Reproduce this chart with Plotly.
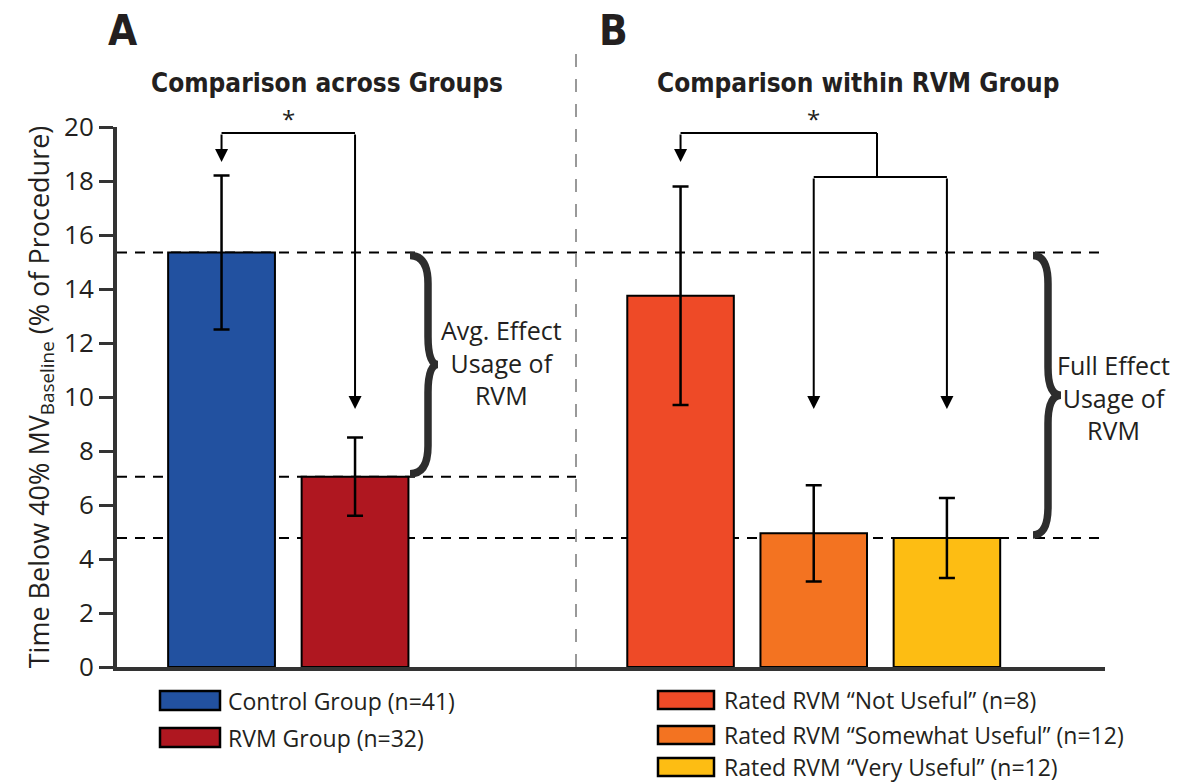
import plotly.graph_objects as go

# ---------------- data ----------------
groups_a = ["Control Group (n=41)", "RVM Group (n=32)"]
means_a = [15.35, 7.05]
err_a = [2.85, 1.45]
colors_a = ["#2251a0", "#af1720"]

groups_b = ["Rated RVM “Not Useful” (n=8)",
            "Rated RVM “Somewhat Useful” (n=12)",
            "Rated RVM “Very Useful” (n=12)"]
means_b = [13.75, 4.95, 4.78]
err_b = [4.05, 1.78, 1.48]
colors_b = ["#ee4a27", "#f37321", "#fdbd13"]

y_ticks = [0, 2, 4, 6, 8, 10, 12, 14, 16, 18, 20]

# ---------------- layout geometry (pixels) ----------------
FW, FH = 1194, 784
L, R, T, B = 117, 1105, 127, 667
W, H = R - L, B - T


def px_x(p):
    return (p - L) / W


def px_y(p):
    return (B - p) / H


def dy(p):  # pixel distance -> data units on y
    return p / H * 20


TXT = "#231f20"
AX = "#333333"
BODY = "Open Sans, Lato, sans-serif"
COND = "Liberation Sans Narrow, DejaVu Sans Condensed, sans-serif"

split = px_x(576)

fig = go.Figure()

fig.add_trace(go.Bar(
    x=groups_a, y=means_a, xaxis="x", yaxis="y",
    marker=dict(color=colors_a, line=dict(color="black", width=2)),
    error_y=dict(type="data", array=err_a, color="black", thickness=2.5, width=8),
    showlegend=False,
))
fig.add_trace(go.Bar(
    x=groups_b, y=means_b, xaxis="x2", yaxis="y2",
    marker=dict(color=colors_b, line=dict(color="black", width=2)),
    error_y=dict(type="data", array=err_b, color="black", thickness=2.5, width=8),
    showlegend=False,
))

shapes = []
annotations = []

# dashed reference lines at group means
for val, x1 in [(means_a[0], px_x(1100)), (means_a[1], split), (means_b[2], px_x(1100))]:
    shapes.append(dict(type="line", xref="paper", yref="y", x0=0, x1=x1, y0=val, y1=val,
                       line=dict(color="black", width=2, dash="10px,8px"), layer="below"))

# vertical separator
shapes.append(dict(type="line", xref="paper", yref="paper", x0=split, x1=split,
                   y0=0, y1=px_y(42), line=dict(color="#999999", width=2, dash="13px,12px")))

# ---- significance brackets ----
top_y = 20 - dy(6)
tip_first = 20 - dy(35)
low_tip = 20 - dy(282)
mid_y = 20 - dy(50)
star_y = px_y(119)

# panel A
shapes.append(dict(type="line", xref="x", yref="y", x0=0, x1=1, y0=top_y, y1=top_y,
                   line=dict(color="black", width=2)))
for xi, ty in [(0, tip_first), (1, low_tip)]:
    annotations.append(dict(x=xi, y=ty, ax=xi, ay=top_y, xref="x", yref="y", axref="x", ayref="y",
                            text="", showarrow=True, arrowhead=2, arrowsize=1.3, arrowwidth=2,
                            arrowcolor="black", standoff=0))
annotations.append(dict(x=0.5, y=star_y, xref="x", yref="paper", text="*", showarrow=False,
                        xanchor="center", yanchor="middle",
                        font=dict(size=24, color=TXT, family=BODY)))

# panel B
jx = 1.475
shapes.append(dict(type="line", xref="x2", yref="y2", x0=0, x1=jx, y0=top_y, y1=top_y,
                   line=dict(color="black", width=2)))
shapes.append(dict(type="line", xref="x2", yref="y2", x0=jx, x1=jx, y0=top_y, y1=mid_y,
                   line=dict(color="black", width=2)))
shapes.append(dict(type="line", xref="x2", yref="y2", x0=1, x1=2, y0=mid_y, y1=mid_y,
                   line=dict(color="black", width=2)))
annotations.append(dict(x=0, y=tip_first, ax=0, ay=top_y, xref="x2", yref="y2", axref="x2", ayref="y2",
                        text="", showarrow=True, arrowhead=2, arrowsize=1.3, arrowwidth=2,
                        arrowcolor="black", standoff=0))
for xi in [1, 2]:
    annotations.append(dict(x=xi, y=low_tip, ax=xi, ay=mid_y, xref="x2", yref="y2", axref="x2", ayref="y2",
                            text="", showarrow=True, arrowhead=2, arrowsize=1.3, arrowwidth=2,
                            arrowcolor="black", standoff=0))
annotations.append(dict(x=1, y=star_y, xref="x2", yref="paper", text="*", showarrow=False,
                        xanchor="center", yanchor="middle",
                        font=dict(size=24, color=TXT, family=BODY)))


# ---- curly braces ----
def brace(xe, xs, xt, y_top, y_bot):
    xe, xs, xt = px_x(xe), px_x(xs), px_x(xt)
    r = dy(28)
    ym = (y_top + y_bot) / 2
    return (f"M {xe},{y_top} Q {xs},{y_top} {xs},{y_top - r} "
            f"L {xs},{ym + r} Q {xs},{ym} {xt},{ym} "
            f"Q {xs},{ym} {xs},{ym - r} "
            f"L {xs},{y_bot + r} Q {xs},{y_bot} {xe},{y_bot}")


shapes.append(dict(type="path", xref="paper", yref="y",
                   path=brace(410, 428, 438, means_a[0] - dy(3), means_a[1] + dy(3)),
                   line=dict(color="#2d2d2d", width=7.5)))
shapes.append(dict(type="path", xref="paper", yref="y",
                   path=brace(1033, 1048, 1061, means_a[0] - dy(3), means_b[2] + dy(3)),
                   line=dict(color="#2d2d2d", width=7.5)))


def text_px(xp, yp, text, size, family=BODY, xanchor="center", align="center"):
    annotations.append(dict(x=px_x(xp), y=px_y(yp), xref="paper", yref="paper", text=text,
                            showarrow=False, xanchor=xanchor, yanchor="middle", align=align,
                            font=dict(size=size, color=TXT, family=family)))


text_px(501, 362, "Avg. Effect<br>Usage of<br>RVM", 25)
text_px(1113, 397, "Full Effect<br>Usage of<br>RVM", 25)

# ---- panel letters and titles ----
text_px(106, 30, "<b>A</b>", 42, COND, xanchor="left")
text_px(597, 30, "<b>B</b>", 42, COND, xanchor="left")
text_px(327, 83, "<b>Comparison across Groups</b>", 26, COND)
text_px(858, 83, "<b>Comparison within RVM Group</b>", 26, COND)


# ---- custom legends ----
def legend_item(x0, x1, yc, hh, color, label, tx):
    shapes.append(dict(type="rect", xref="paper", yref="paper",
                       x0=px_x(x0), x1=px_x(x1), y0=px_y(yc + hh), y1=px_y(yc - hh),
                       fillcolor=color, line=dict(color="black", width=2.5)))
    text_px(tx, yc, label, 23, xanchor="left", align="left")


for name, col, yc in zip(groups_a, colors_a, [700.5, 737.5]):
    legend_item(160, 220, yc, 9.5, col, name, 226)
for name, col, yc in zip(groups_b, colors_b, [700, 735, 767]):
    legend_item(658, 714, yc, 9, col, name, 722)

# ---- axes ----
fig.update_layout(
    width=FW, height=FH,
    margin=dict(l=L, r=FW - R, t=T, b=FH - B, autoexpand=False),
    paper_bgcolor="white", plot_bgcolor="white",
    bargap=0.2,
    shapes=shapes, annotations=annotations,
    font=dict(family=BODY, color=TXT),
    xaxis=dict(domain=[0, split], range=[-0.783, 2.655], showline=True, linewidth=4,
               linecolor=AX, showticklabels=False, ticks="", showgrid=False, zeroline=False),
    xaxis2=dict(domain=[split, 1], range=[-0.785, 3.187], showline=True, linewidth=4,
                linecolor=AX, showticklabels=False, ticks="", showgrid=False, zeroline=False,
                anchor="y2"),
    yaxis=dict(range=[0, 20], tickvals=y_ticks, showline=True, linewidth=4, linecolor=AX,
               ticks="outside", ticklen=14, tickwidth=3, tickcolor=AX, showgrid=False,
               zeroline=False, tickfont=dict(size=26, color=TXT, family=BODY),
               title=dict(text="Time Below 40% MV<sub>Baseline</sub> (% of Procedure)",
                          font=dict(size=27, color=TXT, family=BODY), standoff=8)),
    yaxis2=dict(range=[0, 20], matches="y", anchor="x2", visible=False),
)

fig.write_html("out.html")
